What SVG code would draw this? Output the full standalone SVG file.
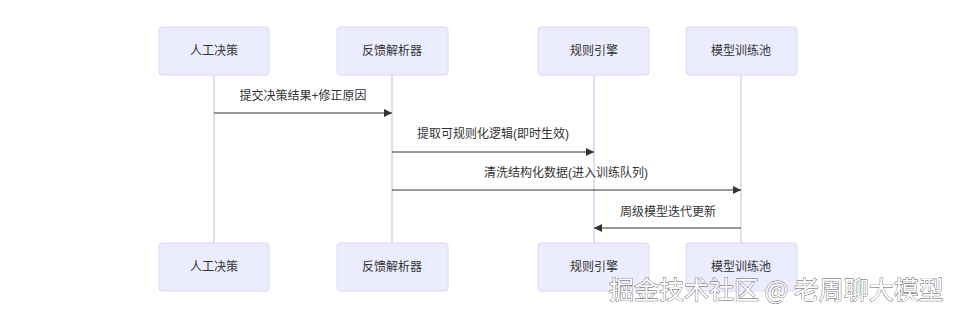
<svg xmlns="http://www.w3.org/2000/svg" width="956" height="317" viewBox="0 0 956 317">
<style>
.box{fill:#ECECFF;stroke:#dcdaf3;stroke-width:1}
.life{stroke:#d6d3ef;stroke-width:1.5}
.lbl{font-family:"Liberation Sans","Noto Sans CJK SC",sans-serif;font-size:12px;fill:#333;text-anchor:middle}
.msg{stroke:#333;stroke-width:1;fill:none;marker-end:url(#ah)}
.wm{font-family:"Noto Sans CJK SC",sans-serif;font-size:25px;fill:#ffffff;stroke:#555;stroke-width:0.8;paint-order:stroke}
</style>
<defs>
<marker id="ah" viewBox="0 0 10 10" refX="10" refY="5" markerWidth="8" markerHeight="8" markerUnits="userSpaceOnUse" orient="auto">
<path d="M0,0 L10,5 L0,10 z" fill="#333"/>
</marker>
</defs>
<rect width="956" height="317" fill="#fff"/>
<g id="lifelines">
<line class="life" x1="214" y1="75" x2="214" y2="243"/>
<line class="life" x1="392" y1="75" x2="392" y2="243"/>
<line class="life" x1="594" y1="75" x2="594" y2="243"/>
<line class="life" x1="741" y1="75" x2="741" y2="243"/>
</g>
<g id="n1"><rect class="box" x="159" y="27" width="110" height="48" rx="3"/><text class="lbl" x="214" y="55">人工决策</text></g>
<g id="n2"><rect class="box" x="337" y="27" width="111" height="48" rx="3"/><text class="lbl" x="392" y="55">反馈解析器</text></g>
<g id="n3"><rect class="box" x="538" y="27" width="111" height="48" rx="3"/><text class="lbl" x="594" y="55">规则引擎</text></g>
<g id="n4"><rect class="box" x="686" y="27" width="111" height="48" rx="3"/><text class="lbl" x="741" y="55">模型训练池</text></g>
<g id="n1b"><rect class="box" x="159" y="243" width="110" height="48" rx="3"/><text class="lbl" x="214" y="271">人工决策</text></g>
<g id="n2b"><rect class="box" x="337" y="243" width="111" height="48" rx="3"/><text class="lbl" x="392" y="271">反馈解析器</text></g>
<g id="n3b"><rect class="box" x="538" y="243" width="111" height="48" rx="3"/><text class="lbl" x="594" y="271">规则引擎</text></g>
<g id="n4b"><rect class="box" x="686" y="243" width="111" height="48" rx="3"/><text class="lbl" x="741" y="271">模型训练池</text></g>
<g id="connectors">
<line class="msg" x1="214" y1="113" x2="392" y2="113"/>
<text class="lbl" x="303" y="100">提交决策结果+修正原因</text>
<line class="msg" x1="392" y1="152" x2="594" y2="152"/>
<text class="lbl" x="493" y="138">提取可规则化逻辑(即时生效)</text>
<line class="msg" x1="392" y1="190" x2="741" y2="190"/>
<text class="lbl" x="566" y="177">清洗结构化数据(进入训练队列)</text>
<line class="msg" x1="741" y1="228" x2="594" y2="228"/>
<text class="lbl" x="668" y="216">周级模型迭代更新</text>
</g>
<text class="wm" x="609" y="299">掘金技术社区 @ 老周聊大模型</text>
</svg>
